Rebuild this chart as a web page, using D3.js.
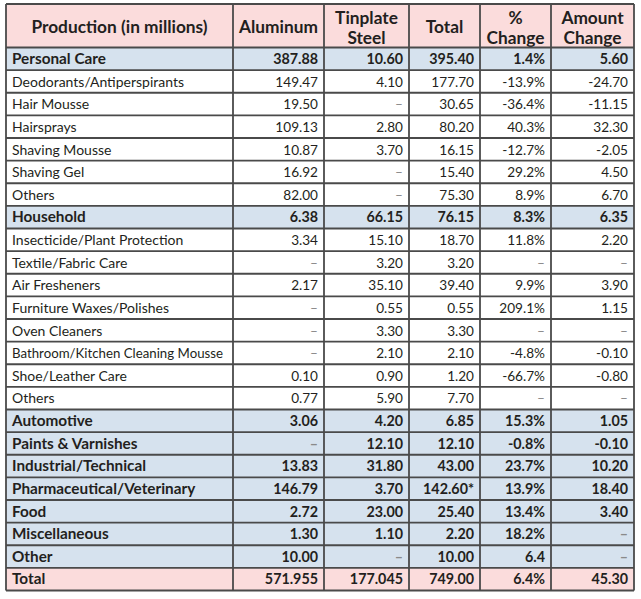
<!DOCTYPE html>
<html><head><meta charset="utf-8">
<script src="https://cdn.jsdelivr.net/npm/d3@7"></script>
<style>html,body{margin:0;padding:0;background:#fff;}svg{display:block;}</style>
</head><body>
<svg id="chart" width="641" height="599"></svg>
<script>
const headers = [["Production (in millions)"],["Aluminum"],["Tinplate","Steel"],["Total"],["%","Change"],["Amount","Change"]];
const categories = ["Personal Care","Deodorants/Antiperspirants","Hair Mousse","Hairsprays","Shaving Mousse","Shaving Gel","Others",
  "Household","Insecticide/Plant Protection","Textile/Fabric Care","Air Fresheners","Furniture Waxes/Polishes","Oven Cleaners","Bathroom/Kitchen Cleaning Mousse","Shoe/Leather Care","Others",
  "Automotive","Paints & Varnishes","Industrial/Technical","Pharmaceutical/Veterinary","Food","Miscellaneous","Other","Total"];
const rowType = ["section","item","item","item","item","item","item",
  "section","item","item","item","item","item","item","item","item",
  "section","section","section","section","section","section","section","total"];
const aluminum = [387.88,149.47,19.50,109.13,10.87,16.92,82.00,6.38,3.34,null,2.17,null,null,null,0.10,0.77,3.06,null,13.83,146.79,2.72,1.30,10.00,571.955];
const tinplate = [10.60,4.10,null,2.80,3.70,null,null,66.15,15.10,3.20,35.10,0.55,3.30,2.10,0.90,5.90,4.20,12.10,31.80,3.70,23.00,1.10,null,177.045];
const totals = [395.40,177.70,30.65,80.20,16.15,15.40,75.30,76.15,18.70,3.20,39.40,0.55,3.30,2.10,1.20,7.70,6.85,12.10,43.00,142.60,25.40,2.20,10.00,749.00];
const totalNotes = ["","","","","","","","","","","","","","","","","","","","*","","","",""];
const pctChange = [1.4,-13.9,-36.4,40.3,-12.7,29.2,8.9,8.3,11.8,null,9.9,209.1,null,-4.8,-66.7,null,15.3,-0.8,23.7,13.9,13.4,18.2,6.4,6.4];
const pctUnits = ["%","%","%","%","%","%","%","%","%","%","%","%","%","%","%","%","%","%","%","%","%","%","","%"];
const amountChange = [5.60,-24.70,-11.15,32.30,-2.05,4.50,6.70,6.35,2.20,null,3.90,1.15,null,-0.10,-0.80,null,1.05,-0.10,10.20,18.40,3.40,null,null,45.30];

const FONT = "Lato, 'Noto Sans', sans-serif";
const colEdges = [6,233,324,409,480,551,634];
const tableTop = 4, headBottom = 47.5, tableBottom = 590.5;
const fills = {header:"#fbdcdc", section:"#d6e2ee", item:"#ffffff", total:"#fbdcdc"};
const lineColor = "#4a4a4a";
const textColor = "#231f20";

const svg = d3.select("#chart");
const y = d3.scaleBand().domain(d3.range(categories.length)).range([headBottom, tableBottom]).padding(0);

function fmtNum(v){ const s3 = v.toFixed(3); return s3.endsWith("0") ? v.toFixed(2) : s3; }

const rows = categories.map((c,i)=>({
  i, type: rowType[i],
  cells:[c,
    aluminum[i]==null?null:fmtNum(aluminum[i]),
    tinplate[i]==null?null:fmtNum(tinplate[i]),
    totals[i]==null?null:fmtNum(totals[i])+totalNotes[i],
    pctChange[i]==null?null:pctChange[i].toFixed(1)+pctUnits[i],
    amountChange[i]==null?null:fmtNum(amountChange[i])]
}));

svg.append("rect").attr("x",colEdges[0]).attr("y",tableTop).attr("width",colEdges[6]-colEdges[0]).attr("height",headBottom-tableTop).attr("fill",fills.header);
svg.selectAll("rect.row").data(rows).join("rect").attr("class","row")
  .attr("x",colEdges[0]).attr("y",d=>y(d.i)).attr("width",colEdges[6]-colEdges[0]).attr("height",y.bandwidth())
  .attr("fill",d=>fills[d.type]);

const hg = svg.append("g");
headers.forEach((h,j)=>{
  const cx = (colEdges[j]+colEdges[j+1])/2;
  const t = hg.append("text").attr("x",cx).attr("text-anchor","middle")
    .attr("font-family",FONT).attr("font-weight","bold").attr("font-size",17.3).attr("fill",textColor);
  if(h.length===1){ t.append("tspan").attr("x",cx).attr("y",33).text(h[0]); }
  else { t.append("tspan").attr("x",cx).attr("y",23.5).text(h[0]); t.append("tspan").attr("x",cx).attr("y",43.5).text(h[1]); }
});

const rg = svg.selectAll("g.r").data(rows).join("g").attr("class","r");
rg.each(function(d){
  const g = d3.select(this);
  const by = y(d.i) + y.bandwidth()/2 + 5.3;
  const bold = d.type!=="item";
  d.cells.forEach((v,j)=>{
    const isDash = v==null;
    const size = j===0 ? (bold?15.3:14) : (bold?14.3:13.6);
    const t = g.append("text")
      .attr("x", j===0 ? colEdges[0]+6 : colEdges[j+1]-6)
      .attr("y", by)
      .attr("text-anchor", j===0 ? "start" : "end")
      .attr("font-family",FONT)
      .attr("font-weight", bold?"bold":"normal")
      .attr("font-size", size)
      .attr("fill", isDash ? "#8a8a8a" : textColor)
      .text(isDash ? "–" : v);
    // keep long labels inside their cell
    if (j===0) {
      const maxW = colEdges[1]-colEdges[0]-16;
      const w = t.node().getComputedTextLength();
      if (w > maxW) t.attr("textLength", maxW).attr("lengthAdjust","spacingAndGlyphs");
    }
  });
});

const lg = svg.append("g").attr("stroke",lineColor).attr("fill","none");
const hLines = [tableTop, headBottom].concat(rows.map(d=>y(d.i)+y.bandwidth()));
lg.selectAll("line.h").data(hLines).join("line").attr("class","h")
  .attr("x1",colEdges[0]).attr("x2",colEdges[6]).attr("y1",d=>d).attr("y2",d=>d).attr("stroke-width",1.8);
lg.selectAll("line.v").data(colEdges).join("line").attr("class","v")
  .attr("x1",d=>d).attr("x2",d=>d).attr("y1",tableTop).attr("y2",tableBottom).attr("stroke-width",1.8);
</script>
</body></html>
